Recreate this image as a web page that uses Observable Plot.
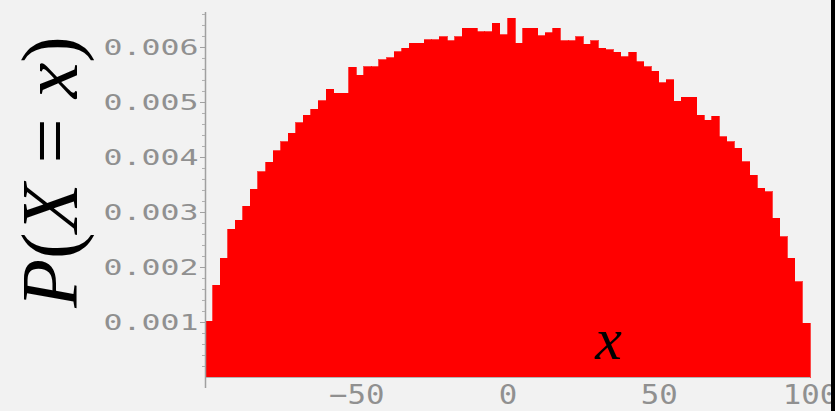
<!DOCTYPE html>
<html><head><meta charset="utf-8">
<script src="https://cdn.jsdelivr.net/npm/d3@7"></script>
<script src="https://cdn.jsdelivr.net/npm/@observablehq/plot@0.6"></script>
<style>html,body{margin:0;padding:0;background:#f2f2f2;overflow:hidden}</style>
</head><body><div id="chart"></div>
<script>
// Histogram bins (left edges), width 2.5
const binStart = [
  -100, -97.5, -95, -92.5, -90, -87.5, -85, -82.5, -80, -77.5,
  -75, -72.5, -70, -67.5, -65, -62.5, -60, -57.5, -55, -52.5,
  -50, -47.5, -45, -42.5, -40, -37.5, -35, -32.5, -30, -27.5,
  -25, -22.5, -20, -17.5, -15, -12.5, -10, -7.5, -5, -2.5,
  0, 2.5, 5, 7.5, 10, 12.5, 15, 17.5, 20, 22.5,
  25, 27.5, 30, 32.5, 35, 37.5, 40, 42.5, 45, 47.5,
  50, 52.5, 55, 57.5, 60, 62.5, 65, 67.5, 70, 72.5,
  75, 77.5, 80, 82.5, 85, 87.5, 90, 92.5, 95, 97.5
];
const binWidth = 2.5;
// P(X = x)
const probability = [
  0.00101, 0.00167, 0.00216, 0.00269, 0.00285, 0.00310, 0.00341, 0.00373, 0.00390, 0.00411,
  0.00428, 0.00443, 0.00462, 0.00476, 0.00487, 0.00502, 0.00523, 0.00516, 0.00516, 0.00563,
  0.00549, 0.00564, 0.00564, 0.00577, 0.00580, 0.00591, 0.00598, 0.00607, 0.00607, 0.00613,
  0.00613, 0.00619, 0.00611, 0.00619, 0.00634, 0.00634, 0.00628, 0.00628, 0.00643, 0.00622,
  0.00652, 0.00607, 0.00634, 0.00634, 0.00620, 0.00626, 0.00634, 0.00611, 0.00611, 0.00619,
  0.00605, 0.00611, 0.00598, 0.00595, 0.00590, 0.00582, 0.00590, 0.00573, 0.00564, 0.00556,
  0.00535, 0.00540, 0.00501, 0.00509, 0.00509, 0.00476, 0.00467, 0.00474, 0.00437, 0.00428,
  0.00416, 0.00391, 0.00367, 0.00343, 0.00337, 0.00289, 0.00255, 0.00216, 0.00173, 0.00098
];
const xTicks = [-50, 0, 50, 100];
const yTicks = [0.001, 0.002, 0.003, 0.004, 0.005, 0.006];
const yMinorTicks = [
  0.0002, 0.0004, 0.0006, 0.0008, 0.0012, 0.0014, 0.0016, 0.0018,
  0.0022, 0.0024, 0.0026, 0.0028, 0.0032, 0.0034, 0.0036, 0.0038,
  0.0042, 0.0044, 0.0046, 0.0048, 0.0052, 0.0054, 0.0056, 0.0058,
  0.0062, 0.0064, 0.0066
];

const bins = binStart.map((x0, i) => ({x1: x0, x2: x0 + binWidth, p: probability[i]}));

const plot = Plot.plot({
  width: 835,
  height: 411,
  marginLeft: 205,
  marginRight: 25,
  marginTop: 12,
  marginBottom: 34,
  style: {background: "#f2f2f2", overflow: "visible"},
  x: {domain: [-100, 100]},
  y: {domain: [0, 0.006636]},
  marks: [
    Plot.rectY(bins, {x1: "x1", x2: "x2", y: "p", fill: "#ff0000", stroke: "#ff0000",
      strokeWidth: 0.7, inset: 0, shapeRendering: "crispEdges"}),
    Plot.ruleY([0], {stroke: "#b4b4b4", strokeWidth: 1.2}),
    Plot.ruleX([-100], {stroke: "#a0a0a0", strokeWidth: 1.5, insetBottom: -11}),
    Plot.axisY(yMinorTicks, {tickSize: 3, text: null, stroke: "#b0b0b0", label: null}),
    Plot.axisY(yTicks, {tickFormat: d3.format(".3f"), tickSize: 5, tickPadding: 2,
      stroke: "#a0a0a0", fill: "#909090", fontSize: 22, fontFamily: "DejaVu Sans Mono", label: null}),
    Plot.axisX(xTicks, {tickSize: 0, tickPadding: 8, fill: "#909090", fontSize: 26,
      fontFamily: "DejaVu Sans Mono", label: null}),
    Plot.text(["x"], {frameAnchor: "bottom-left", dx: 403, dy: -38, fontSize: 60,
      fontStyle: "italic", fontFamily: "Liberation Serif", fill: "black",
      textAnchor: "middle", lineAnchor: "middle"})
  ]
});

const svg = d3.select(plot);
svg.selectAll('[aria-label="y-axis tick label"] text')
  .attr("textLength", 95).attr("lengthAdjust", "spacingAndGlyphs");
svg.selectAll('[aria-label="x-axis tick label"] text')
  .each(function() {
    const t = d3.select(this);
    const n = t.text().length;
    t.attr("textLength", n * 18.5).attr("lengthAdjust", "spacingAndGlyphs");
  });

const lab = svg.append("text")
  .attr("transform", "translate(77,172) rotate(-90)")
  .attr("text-anchor", "middle")
  .attr("font-family", "Liberation Serif")
  .attr("font-size", 80)
  .attr("fill", "black");
lab.append("tspan").attr("font-style", "italic").text("P");
lab.append("tspan").text("(");
lab.append("tspan").attr("font-style", "italic").text("X");
lab.append("tspan").text(" = ");
lab.append("tspan").attr("font-style", "italic").text("x");
lab.append("tspan").text(")");

svg.append("rect").attr("x", 831).attr("y", 0).attr("width", 4).attr("height", 411).attr("fill", "#000");

document.getElementById("chart").appendChild(plot);
</script>
</body></html>
